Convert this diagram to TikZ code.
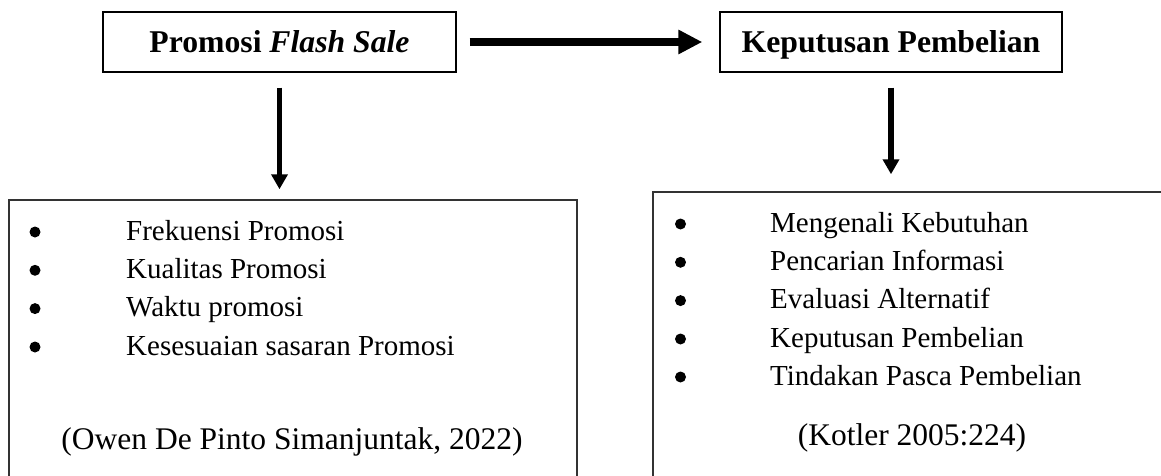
\documentclass[tikz,border=0pt]{standalone}
\usepackage{fontspec}
\setmainfont{Liberation Serif}
\usetikzlibrary{arrows.meta}
\begin{document}
\begin{tikzpicture}[x=1pt,y=-1pt,
 headbox/.style={draw=black, line width=1.4pt, minimum width=353pt, minimum height=60pt, inner sep=0pt, text height=21.5pt, text depth=0pt, font=\fontsize{31.7}{36}\selectfont\bfseries},
 listbox/.style={draw=black!80, line width=1.5pt, inner sep=0pt},
 itemtext/.style={anchor=base west, inner sep=0pt, font=\fontsize{29}{34}\selectfont},
 citetext/.style={anchor=base, inner sep=0pt, font=\fontsize{31.5}{36}\selectfont},
 bigarrow/.style={line width=8pt, -{Triangle[length=24pt,width=23pt]}},
 downarrow/.style={line width=5.5pt, -{Triangle[length=15pt,width=16pt]}}
]
\useasboundingbox (0,0) rectangle (1161,476);
\clip (0,0) rectangle (1161,476);

% header boxes
\node[headbox] (A) at (279.5,42) {Promosi \textit{Flash Sale}};
\node[headbox, minimum width=342pt] (B) at (891,42) {Keputusan Pembelian};

% lower boxes
\node[listbox, minimum width=568pt, minimum height=320pt] (L) at (293,360) {};
\node[listbox, minimum width=547pt, minimum height=328pt] (R) at (926.5,356) {};

% arrows
\draw[bigarrow, shorten <=13pt, shorten >=17pt] (A.east) -- (B.west);
\draw[downarrow, shorten <=15pt, shorten >=10pt] (A.south) -- (A.south |- L.north);
\draw[downarrow, shorten <=15pt, shorten >=17pt] (B.south) -- (B.south |- R.north);

% left list
\foreach \y in {240,278.3,316.6,355} { \fill (35,\y-8) circle (5.5pt); }
\node[itemtext] (l1) at (126,240) {Frekuensi Promosi};
\node[itemtext] (l2) at (126,278.3) {Kualitas Promosi};
\node[itemtext] (l3) at (126,316.6) {Waktu promosi};
\node[itemtext] (l4) at (126,355) {Kesesuaian sasaran Promosi};
\node[citetext] (lc) at (292,449) {(Owen De Pinto Simanjuntak, 2022)};

% right list
\foreach \y in {232,270.3,308.6,347,385} { \fill (680.5,\y-8) circle (5.5pt); }
\node[itemtext] (r1) at (770,232) {Mengenali Kebutuhan};
\node[itemtext] (r2) at (770,270.3) {Pencarian Informasi};
\node[itemtext] (r3) at (770,308.6) {Evaluasi Alternatif};
\node[itemtext] (r4) at (770,347) {Keputusan Pembelian};
\node[itemtext] (r5) at (770,385) {Tindakan Pasca Pembelian};
\node[citetext] (rc) at (912,445) {(Kotler 2005:224)};
\end{tikzpicture}
\end{document}
